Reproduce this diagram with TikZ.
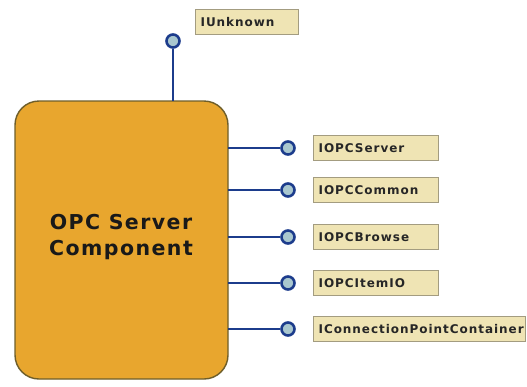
\documentclass[tikz,border=0pt]{standalone}
\usepackage{fontspec}
\setmainfont{DejaVu Sans}
\newfontfamily\labelfont[LetterSpace=8]{DejaVu Sans}
\newfontfamily\titlefont[LetterSpace=7]{DejaVu Sans}
\definecolor{compfill}{HTML}{E8A62E}
\definecolor{compdraw}{HTML}{6E5E2A}
\definecolor{tagfill}{HTML}{EFE4B4}
\definecolor{tagdraw}{HTML}{A39C80}
\definecolor{wire}{HTML}{1C3C8C}
\definecolor{lolli}{HTML}{A9C7CF}
\tikzset{
  comp/.style={draw=compdraw, line width=1.4pt, fill=compfill, rounded corners=24pt},
  tag/.style={draw=tagdraw, line width=1.2pt, fill=tagfill, minimum height=25pt,
    inner xsep=5pt, anchor=west, align=left, text=black!85,
    font=\labelfont\bfseries\fontsize{12}{14}\selectfont},
  port/.style={circle, draw=wire, line width=2.6pt, fill=lolli, minimum size=13pt, inner sep=0pt},
  wireline/.style={draw=wire, line width=2.6pt}
}
\begin{document}
\begin{tikzpicture}[x=1pt,y=-1pt]
\useasboundingbox (0,0) rectangle (527,386);
% component body
\draw[comp] (15,101) rectangle (228,379);
\node[font=\titlefont\bfseries\fontsize{20.5}{26}\selectfont, align=center, text=black!90] (title) at (121,237) {OPC Server\\Component};
% IUnknown on top
\coordinate (topstem) at (173,101);
\node[port] (pu) at (173,41) {};
\draw[wireline] (topstem) -- (pu);
\node[tag, text width=93pt] (tu) at (195,22) {IUnknown};
% ports on the right side
\foreach \name/\yy/\txt/\w in {a/148/IOPCServer/115, b/190/IOPCCommon/115, c/237/IOPCBrowse/115, d/283/IOPCItemIO/115, e/329/IConnectionPointContainer/202}{
  \coordinate (s\name) at (228,\yy);
  \node[port] (p\name) at (288,\yy) {};
  \draw[wireline] (s\name) -- (p\name);
  \node[tag, text width=\w pt] (t\name) at (313,\yy) {\txt};
}
\end{tikzpicture}
\end{document}
